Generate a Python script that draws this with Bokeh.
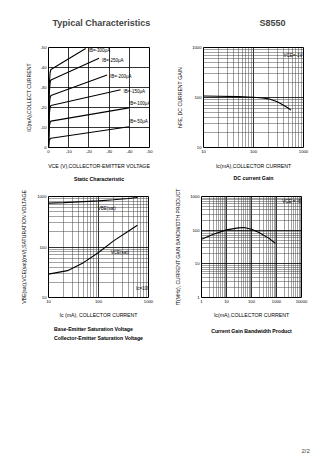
from bokeh.plotting import figure
from bokeh.layouts import column, row
from bokeh.models import Title, Label, FixedTicker
from bokeh.embed import file_html
from bokeh.resources import INLINE
from bokeh.core.properties import value

FONT = "Liberation Sans"

# ---------------- data ----------------
# Static characteristic
vce_ticks = [0, 10, 20, 30, 40, 50]
vce_tick_labels = ["0", "-10", "-20", "-30", "-40", "-50"]
ic_ticks = [0, 10, 20, 30, 40, 50]
ic_tick_labels = ["0", "-10", "-20", "-30", "-40", "-50"]
ib_names = ["IB=-300μA", "IB=-250μA", "IB=-200μA", "IB=-150μA", "IB=-100μA", "IB=-50μA"]
ib_vce = [
    [0, 0.3, 0.8, 1.2, 18.4],
    [0, 0.3, 0.8, 1.2, 25.0],
    [0, 0.3, 0.8, 1.2, 29.0],
    [0, 0.3, 0.8, 1.2, 35.7],
    [0, 0.3, 0.8, 1.2, 39.8],
    [0, 0.3, 0.8, 1.2, 39.8],
]
ib_ic = [
    [0, 30.0, 37.5, 39.0, 49.5],
    [0, 26.0, 32.5, 33.8, 44.6],
    [0, 20.0, 25.0, 26.0, 36.3],
    [0, 16.0, 20.0, 21.0, 28.9],
    [0, 10.0, 12.5, 13.2, 19.8],
    [0, 3.5, 4.3, 4.6, 10.4],
]

# DC current gain
hfe_ic = [10, 20, 50, 100, 150, 200, 300, 400, 500, 560]
hfe = [107, 106, 104, 101, 98, 94, 82, 70, 61, 56]
hfe_x_ticks = [10, 100, 1000]
hfe_x_labels = ["10", "100", "1000"]
hfe_y_ticks = [10, 100, 1000]
hfe_y_labels = ["10", "100", "1000"]

# Saturation voltages
sat_ic = [10, 20, 50, 100, 200, 400, 600]
vbe_sat = [740, 755, 790, 820, 860, 910, 955]
sat_ic2 = [10, 24, 50, 100, 200, 380, 600]
vce_sat = [29, 34, 49, 78, 132, 200, 270]
sat_x_ticks = [10, 100, 1000]
sat_x_labels = ["10", "100", "1000"]
sat_y_ticks = [10, 100, 1000]
sat_y_labels = ["10", "100", "1000"]

# Current gain bandwidth product
ft_ic = [1, 3, 10, 30, 50, 100, 200, 500, 900]
ft = [54, 76, 102, 117, 120, 107, 85, 57, 41]
ft_x_ticks = [1, 10, 100, 1000, 10000]
ft_x_labels = ["1", "10", "100", "1000", "10000"]
ft_y_ticks = [1, 10, 100, 1000]
ft_y_labels = ["1", "10", "100", "1000"]


def minors(ticks):
    out = []
    for t in ticks[:-1]:
        out += [t * k for k in range(2, 10)]
    return out


def style(p, xlabel, ylabel, xstand=4, ystand=4):
    p.background_fill_color = "white"
    p.border_fill_color = "white"
    p.outline_line_color = "black"
    p.outline_line_width = 1
    p.outline_line_alpha = 1
    for ax in (p.xaxis[0], p.yaxis[0]):
        ax.axis_line_color = None
        ax.major_tick_line_color = None
        ax.minor_tick_line_color = None
        ax.major_tick_out = 0
        ax.major_tick_in = 0
        ax.minor_tick_out = 0
        ax.minor_tick_in = 0
        ax.major_label_text_font = FONT
        ax.major_label_text_font_size = "4.2px"
        ax.major_label_text_color = "black"
        ax.major_label_standoff = 2
        ax.axis_label_text_font = FONT
        ax.axis_label_text_font_size = "5.2px"
        ax.axis_label_text_font_style = "normal"
        ax.axis_label_text_color = "black"
    p.xaxis[0].axis_label_standoff = xstand
    p.yaxis[0].axis_label_standoff = ystand
    p.xaxis[0].axis_label = xlabel
    p.yaxis[0].axis_label = ylabel
    p.yaxis[0].major_label_orientation = "horizontal"


def add_title(p, text, standoff=5):
    p.add_layout(Title(text=text, align="center", text_font=FONT, text_font_size="5.2px",
                       text_font_style="bold", text_color="black", standoff=standoff,
                       text_line_height=1.5), "below")


def log_grid(p):
    for g in (p.xgrid[0], p.ygrid[0]):
        g.grid_line_color = "black"
        g.grid_line_width = 0.8
        g.minor_grid_line_color = "#444444"
        g.minor_grid_line_width = 0.5


# ---------------- header ----------------
header = figure(width=336, height=40, x_range=(0, 336), y_range=(0, 40), toolbar_location=None,
                output_backend="svg", min_border=0, x_axis_location=None, y_axis_location=None,
                outline_line_color=None)
header.grid.visible = False
header.add_layout(Label(x=52, y=18, text="Typical Characteristics", text_font=FONT,
                        text_font_size="9px", text_font_style="bold", text_baseline="middle"))
header.add_layout(Label(x=259, y=18, text="S8550", text_font=FONT,
                        text_font_size="9px", text_font_style="bold", text_baseline="middle"))

# ---------------- p1 static characteristic ----------------
p1 = figure(width=168, height=145, x_range=(0, 50), y_range=(0, 50), toolbar_location=None,
            output_backend="svg", min_border_left=48, min_border_right=19,
            min_border_top=7, min_border_bottom=37)
style(p1, "VCE (V),COLLECTOR-EMITTER VOLTAGE", "IC(mA),COLLECT CURRENT", xstand=7, ystand=5)
p1.xaxis[0].ticker = FixedTicker(ticks=vce_ticks)
p1.yaxis[0].ticker = FixedTicker(ticks=ic_ticks)
p1.xaxis[0].major_label_overrides = dict(zip(vce_ticks, vce_tick_labels))
p1.yaxis[0].major_label_overrides = dict(zip(ic_ticks, ic_tick_labels))
p1.xgrid[0].grid_line_color = "black"
p1.ygrid[0].grid_line_color = "black"
p1.xgrid[0].grid_line_width = 0.8
p1.ygrid[0].grid_line_width = 0.8
for xs, ys in zip(ib_vce, ib_ic):
    p1.line(xs, ys, line_color="black", line_width=1.1)
p1.text(x=[v[-1] for v in ib_vce], y=[i[-1] for i in ib_ic], text=ib_names,
        text_font=value(FONT), text_font_size="4.5px", text_baseline="middle",
        x_offset=[3, 3, 3, 3, 0, 0], y_offset=[2, 2, 2, 2, -4, -5], text_color="black")
add_title(p1, "Static Characteristic", standoff=5)

# ---------------- p2 DC current gain ----------------
p2 = figure(width=168, height=145, x_axis_type="log", y_axis_type="log",
            x_range=(10, 1000), y_range=(10, 1000), toolbar_location=None,
            output_backend="svg", min_border_left=35, min_border_right=33,
            min_border_top=7, min_border_bottom=38)
style(p2, "Ic(mA),COLLECTOR CURRENT", "hFE, DC CURRENT GAIN", xstand=7, ystand=6)
p2.xaxis[0].ticker = FixedTicker(ticks=hfe_x_ticks, minor_ticks=minors(hfe_x_ticks))
p2.yaxis[0].ticker = FixedTicker(ticks=hfe_y_ticks, minor_ticks=minors(hfe_y_ticks))
p2.xaxis[0].major_label_overrides = dict(zip(hfe_x_ticks, hfe_x_labels))
p2.yaxis[0].major_label_overrides = dict(zip(hfe_y_ticks, hfe_y_labels))
log_grid(p2)
p2.line(hfe_ic, hfe, line_color="black", line_width=1.1)
p2.add_layout(Label(x=400, y=690, text="VCE=-1V", text_font=FONT, text_font_size="4.5px",
                    text_baseline="middle", text_color="black"))
add_title(p2, "DC current Gain", standoff=3)

# ---------------- p3 saturation voltage ----------------
p3 = figure(width=168, height=175, x_axis_type="log", y_axis_type="log",
            x_range=(10, 1000), y_range=(10, 1000), toolbar_location=None,
            output_backend="svg", min_border_left=48, min_border_right=20,
            min_border_top=11, min_border_bottom=63)
style(p3, "Ic (mA), COLLECTOR CURRENT", "VBE(sat),VCE(sat)(mV),SATURATION VOLTAGE",
      xstand=6, ystand=7)
p3.xaxis[0].ticker = FixedTicker(ticks=sat_x_ticks, minor_ticks=minors(sat_x_ticks))
p3.yaxis[0].ticker = FixedTicker(ticks=sat_y_ticks, minor_ticks=minors(sat_y_ticks))
p3.xaxis[0].major_label_overrides = dict(zip(sat_x_ticks, sat_x_labels))
p3.yaxis[0].major_label_overrides = dict(zip(sat_y_ticks, sat_y_labels))
log_grid(p3)
p3.line(sat_ic, vbe_sat, line_color="black", line_width=1.1)
p3.line(sat_ic2, vce_sat, line_color="black", line_width=1.1)
for x, y, t in [(97, 570, "VBE(sat)"), (176, 77, "VCE(sat)"), (560, 15, "Ic=10IB")]:
    p3.add_layout(Label(x=x, y=y, text=t, text_font=FONT, text_font_size="4.5px",
                        text_baseline="middle", text_color="black"))
add_title(p3, "Base-Emitter Saturation Voltage\nCollector-Emitter Saturation Voltage", standoff=7)

# ---------------- p4 fT ----------------
p4 = figure(width=168, height=175, x_axis_type="log", y_axis_type="log",
            x_range=(1, 10000), y_range=(1, 1000), toolbar_location=None,
            output_backend="svg", min_border_left=33, min_border_right=35,
            min_border_top=11, min_border_bottom=63)
style(p4, "Ic(mA),COLLECTOR CURRENT", "fT(MHz), CURRENT GAIN BANDWIDTH PRODUCT",
      xstand=6, ystand=6)
p4.yaxis[0].axis_label_text_font_size = "5px"
p4.xaxis[0].ticker = FixedTicker(ticks=ft_x_ticks, minor_ticks=minors(ft_x_ticks))
p4.yaxis[0].ticker = FixedTicker(ticks=ft_y_ticks, minor_ticks=minors(ft_y_ticks))
p4.xaxis[0].major_label_overrides = dict(zip(ft_x_ticks, ft_x_labels))
p4.yaxis[0].major_label_overrides = dict(zip(ft_y_ticks, ft_y_labels))
log_grid(p4)
p4.line(ft_ic, ft, line_color="black", line_width=1.1)
p4.add_layout(Label(x=1700, y=710, text="VCE = -6V", text_font=FONT, text_font_size="4.5px",
                    text_baseline="middle", text_color="black"))
add_title(p4, "Current Gain Bandwidth Product", standoff=11)

# ---------------- footer ----------------
footer = figure(width=336, height=115, x_range=(0, 336), y_range=(0, 115), toolbar_location=None,
                output_backend="svg", min_border=0, x_axis_location=None, y_axis_location=None,
                outline_line_color=None)
footer.grid.visible = False
footer.add_layout(Label(x=301, y=25, text="2/2", text_font=FONT, text_font_size="6px",
                        text_baseline="middle"))

layout = column(header, row(p1, p2), row(p3, p4), footer)
open("out.html", "w").write(file_html(layout, INLINE))
